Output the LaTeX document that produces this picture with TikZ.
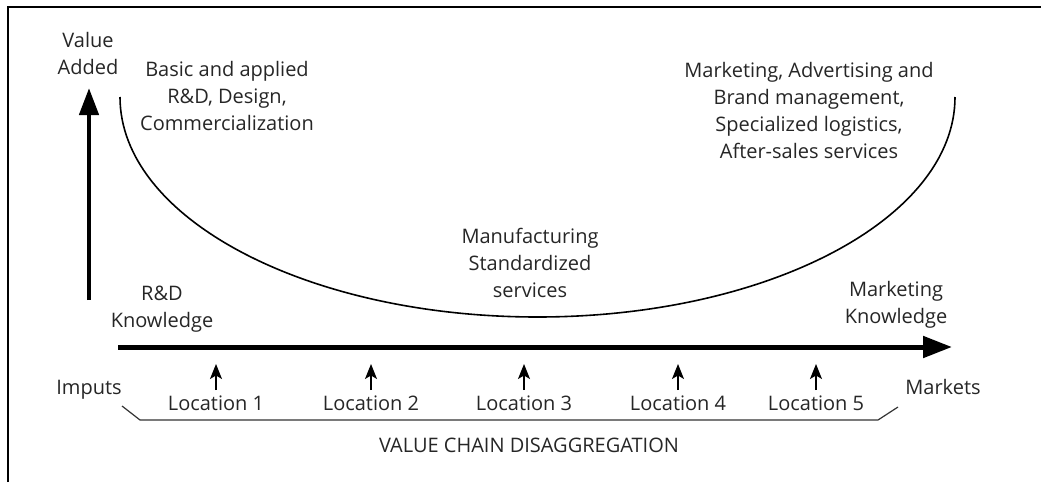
\documentclass[tikz,border=0pt]{standalone}
\usepackage{fontspec}
\setmainfont{Open Sans}
\usetikzlibrary{arrows.meta}
\begin{document}
\begin{tikzpicture}[x=1pt,y=1pt,
  lbl/.style={inner sep=0pt,outer sep=0pt,align=center,anchor=base,font=\fontsize{20}{27}\selectfont,text=black!85},
  thin/.style={line width=1.2pt},
  tick/.style={line width=1.2pt,-{Stealth[length=15pt,width=12pt,inset=3.5pt]}}]
\useasboundingbox (0,0) rectangle (1041,-482);
% frame (only top and left edges visible)
\draw[line width=2pt] (8,-482) -- (8,-7) -- (1041,-7);
% vertical value axis
\coordinate (vb) at (89,-300);
\coordinate (vt) at (89,-88);
\draw[line width=4.5pt,-{Triangle[length=27pt,width=19pt]}] (vb) -- (vt);
% horizontal chain axis
\coordinate (hl) at (118,-347);
\coordinate (hr) at (952,-347);
\draw[line width=5pt,-{Triangle[length=29pt,width=21pt]}] (hl) -- (hr);
% smile curve
\coordinate (cs) at (120,-97);
\draw[line width=1.6pt] (cs) arc[start angle=180,end angle=360,x radius=417.5pt,y radius=220pt];
% texts (base anchor = baseline of the last line)
\node[lbl] (va) at (88,-74) {Value\\Added};
\node[lbl] (rd) at (227,-130) {Basic and applied\\R\&D, Design,\\Commercialization};
\node[lbl] (mk) at (809,-158) {Marketing, Advertising and\\Brand management,\\Specialized logistics,\\After-sales services};
\node[lbl] (mf) at (530,-297) {Manufacturing\\Standardized\\services};
\node[lbl] (rdk) at (162,-327) {R\&D\\Knowledge};
\node[lbl] (mkk) at (896,-323) {Marketing\\Knowledge};
\node[lbl] (imp) at (89,-394) {Imputs};
\node[lbl] (mar) at (943,-394) {Markets};
\node[lbl] (vcd) at (529,-452) {VALUE CHAIN DISAGGREGATION};
% locations
\foreach \i/\x in {1/216,2/371,3/524,4/678,5/816}{
  \node[lbl] (loc\i) at (\x,-410) {Location \i};
  \coordinate (lb\i) at (\x,-390);
  \coordinate (lt\i) at (\x,-364);
  \draw[tick] (lb\i) -- (lt\i);
}
% bracket
\coordinate (b1) at (122,-406);
\coordinate (b2) at (140,-420);
\coordinate (b3) at (878,-420);
\coordinate (b4) at (898,-407);
\draw[thin,black!80] (b1) -- (b2) -- (b3) -- (b4);
\end{tikzpicture}
\end{document}
